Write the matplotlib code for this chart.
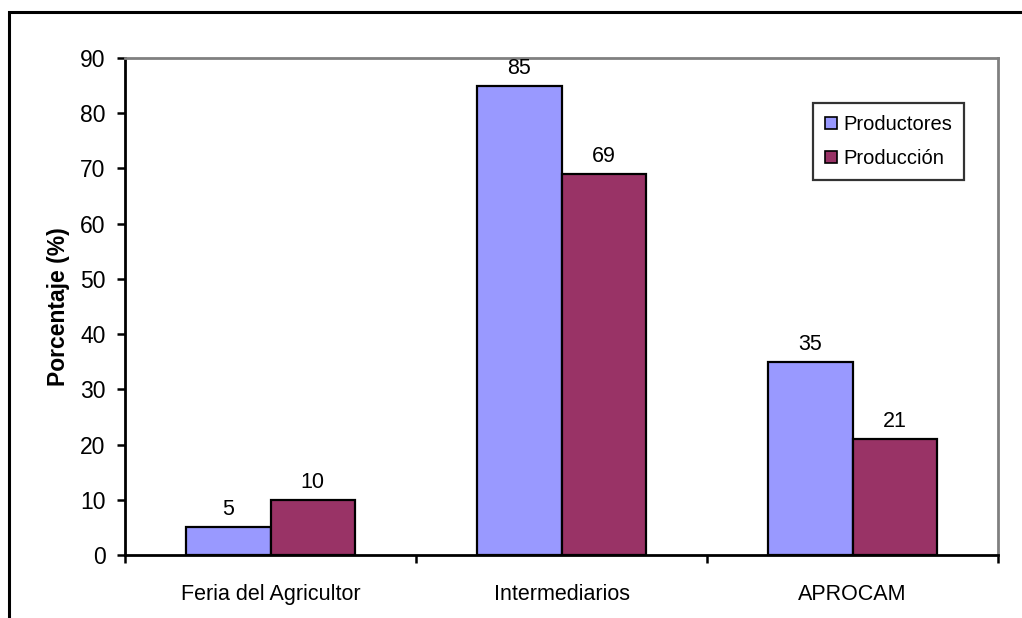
import matplotlib
matplotlib.use("Agg")
import matplotlib.pyplot as plt
from matplotlib.patches import Rectangle, Patch

categories = ["Feria del Agricultor", "Intermediarios", "APROCAM"]
productores = [5, 85, 35]
produccion = [10, 69, 21]
series_names = ["Productores", "Producción"]
yticks = [0, 10, 20, 30, 40, 50, 60, 70, 80, 90]

plt.rcParams["font.family"] = ["Liberation Sans", "DejaVu Sans"]

W, H = 1022, 618
fig = plt.figure(figsize=(W / 100, H / 100), dpi=100)
ax = fig.add_axes([125 / W, 1 - 555 / H, (998 - 125) / W, (555 - 58) / H])

blue = "#9999FF"
maroon = "#993366"
bw = 0.29
xs = list(range(len(categories)))

b1 = ax.bar([x - bw / 2 for x in xs], productores, width=bw, color=blue,
            edgecolor="black", linewidth=1.6, zorder=3)
b2 = ax.bar([x + bw / 2 for x in xs], produccion, width=bw, color=maroon,
            edgecolor="black", linewidth=1.6, zorder=3)

for bars, vals in ((b1, productores), (b2, produccion)):
    for rect, v in zip(bars, vals):
        ax.annotate(f"{v}", (rect.get_x() + rect.get_width() / 2, v),
                    xytext=(0, 5), textcoords="offset points",
                    ha="center", va="bottom", fontsize=15.5)

ax.set_xlim(-0.5, len(categories) - 0.5)
ax.set_ylim(0, 90)
ax.set_yticks(yticks)
ax.tick_params(axis="y", direction="out", length=6, width=1.8, labelsize=16.5, pad=8)

# category boundaries carry the ticks, names sit at the group centres
ax.set_xticks([i - 0.5 for i in range(len(categories) + 1)])
ax.set_xticklabels([])
ax.tick_params(axis="x", which="major", direction="out", length=6, width=1.8)
ax.set_xticks(xs, minor=True)
ax.set_xticklabels(categories, minor=True, fontsize=15.5)
ax.tick_params(axis="x", which="minor", length=0, pad=21)

for side in ("left", "bottom"):
    ax.spines[side].set_color("black")
    ax.spines[side].set_linewidth(2)
for side in ("top", "right"):
    ax.spines[side].set_color("#808080")
    ax.spines[side].set_linewidth(2)

ax.set_ylabel("Porcentaje (%)", fontsize=16.5, fontweight="bold", labelpad=7)

handles = [Patch(facecolor=blue, edgecolor="black", linewidth=1.2),
           Patch(facecolor=maroon, edgecolor="black", linewidth=1.2)]
leg = ax.legend(handles, series_names, loc="upper left",
                bbox_to_anchor=((813 - 125) / (998 - 125), 1 - (103 - 58) / (555 - 58)),
                fontsize=14.5, frameon=True, fancybox=False, edgecolor="black",
                handlelength=0.6, handleheight=0.6, handletextpad=0.3,
                labelspacing=0.75, borderpad=0.6, borderaxespad=0)
leg.get_frame().set_linewidth(1.6)

# outer chart-area frame
fig.add_artist(Rectangle((9 / W, -0.1), 1.2, 1 - 12 / H + 0.1,
                         transform=fig.transFigure, fill=False,
                         edgecolor="black", linewidth=2.2))

fig.savefig("out.png", dpi=100)
